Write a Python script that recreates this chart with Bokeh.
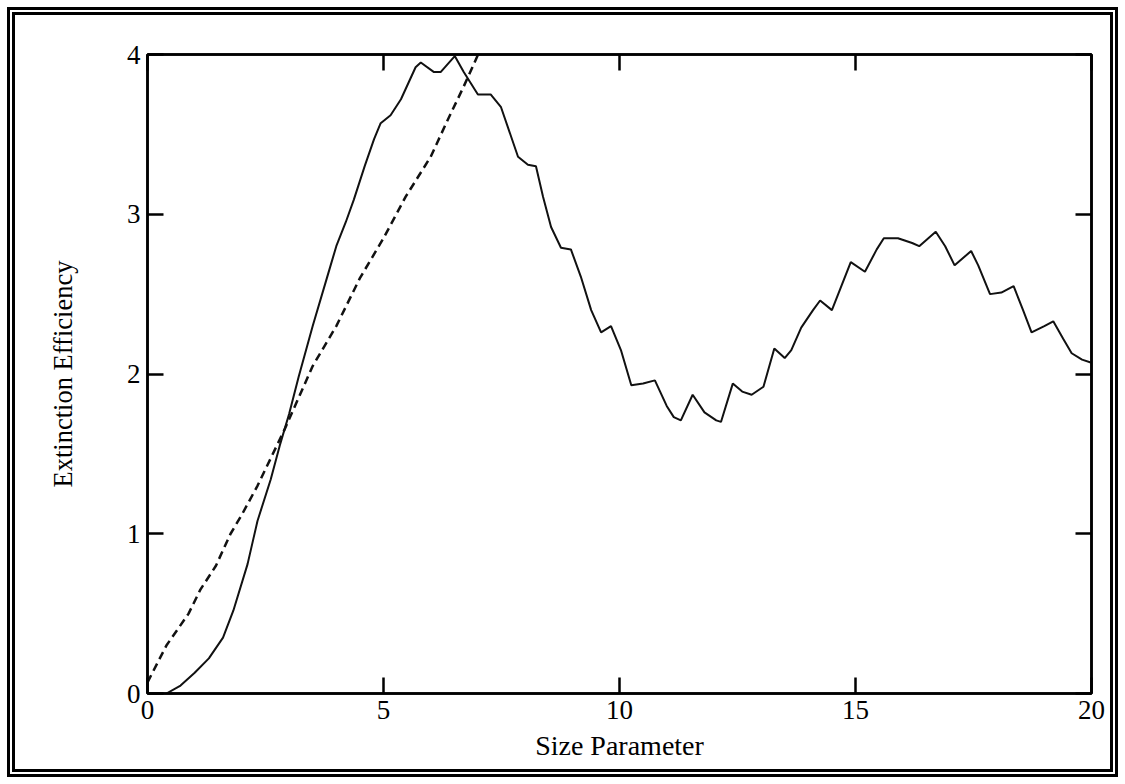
from bokeh.plotting import figure
from bokeh.models import FixedTicker, LinearAxis, CustomJSTickFormatter, InlineStyleSheet
from bokeh.embed import file_html
from bokeh.resources import INLINE

# Solid curve: exact extinction efficiency vs size parameter
size_solid = [0.4, 0.7, 1.0, 1.3, 1.6, 1.82, 2.12, 2.33, 2.61, 2.8, 3.0, 3.2, 3.5, 3.8,
              4.0, 4.2, 4.37, 4.6, 4.8, 4.94, 5.15, 5.37, 5.68, 5.79, 6.07, 6.21, 6.51,
              6.70, 7.0, 7.27, 7.49, 7.85, 8.06, 8.23, 8.38, 8.55, 8.76, 8.97, 9.18, 9.40,
              9.61, 9.82, 10.03, 10.25, 10.5, 10.75, 11.0, 11.15, 11.3, 11.55, 11.8, 12.05,
              12.15, 12.4, 12.6, 12.8, 13.05, 13.28, 13.5, 13.64, 13.85, 14.1, 14.25, 14.5,
              14.7, 14.9, 15.2, 15.45, 15.6, 15.9, 16.2, 16.35, 16.7, 16.9, 17.1, 17.45,
              17.6, 17.85, 18.09, 18.35, 18.55, 18.73, 19.0, 19.19, 19.4, 19.58, 19.8, 20.0]
q_solid = [0.0, 0.05, 0.13, 0.22, 0.35, 0.52, 0.81, 1.08, 1.34, 1.55, 1.75, 1.98, 2.3, 2.6,
           2.8, 2.95, 3.09, 3.3, 3.47, 3.57, 3.62, 3.72, 3.92, 3.95, 3.89, 3.89, 3.99,
           3.89, 3.75, 3.75, 3.67, 3.36, 3.31, 3.30, 3.11, 2.92, 2.79, 2.78, 2.61, 2.40,
           2.26, 2.30, 2.15, 1.93, 1.94, 1.96, 1.80, 1.73, 1.71, 1.87, 1.76, 1.71,
           1.70, 1.94, 1.89, 1.87, 1.92, 2.16, 2.10, 2.15, 2.29, 2.40, 2.46, 2.40,
           2.55, 2.70, 2.64, 2.78, 2.85, 2.85, 2.82, 2.80, 2.89, 2.80, 2.68, 2.77,
           2.68, 2.50, 2.51, 2.55, 2.40, 2.26, 2.30, 2.33, 2.22, 2.13, 2.09, 2.07]

# Dashed curve: approximation
size_dash = [0.0, 0.4, 0.87, 1.12, 1.45, 1.76, 2.0, 2.33, 2.9, 3.5, 4.0, 4.5, 5.0, 5.47,
             6.0, 6.36, 6.7, 7.02]
q_dash = [0.07, 0.3, 0.5, 0.65, 0.8, 1.0, 1.12, 1.30, 1.65, 2.05, 2.3, 2.6, 2.85, 3.11,
          3.36, 3.59, 3.8, 4.01]

x_ticks = [0, 5, 10, 15, 20]
y_ticks = [0, 1, 2, 3, 4]

FONT = "Liberation Serif"

p = figure(width=1125, height=784, x_range=(0, 20), y_range=(0, 4),
           output_backend="svg", toolbar_location=None,
           min_border_left=147, min_border_right=34, min_border_top=54,
           min_border_bottom=91)
p.grid.visible = False
p.outline_line_color = "black"
p.outline_line_width = 2.5
p.background_fill_color = "white"
p.border_fill_color = None

p.line(size_solid, q_solid, line_color="#111111", line_width=2)
p.line(size_dash, q_dash, line_color="#111111", line_width=2.5, line_dash="8 5")

def style_axis(ax, ticks, show_labels):
    ax.ticker = FixedTicker(ticks=ticks)
    ax.minor_tick_line_color = None
    ax.major_tick_in = 16
    ax.major_tick_out = 0
    ax.major_tick_line_width = 2.5
    ax.major_tick_line_color = "black"
    ax.axis_line_color = "black"
    ax.axis_line_width = 2.5
    ax.major_label_text_font = FONT
    ax.major_label_text_font_size = "27px"
    ax.major_label_text_color = "black"
    ax.major_label_standoff = 7
    ax.axis_label_text_font = FONT
    ax.axis_label_text_font_size = "26.5px"
    ax.axis_label_text_font_style = "normal"
    ax.axis_label_text_color = "black"
    if not show_labels:
        ax.formatter = CustomJSTickFormatter(code="return ''")
        ax.major_label_text_font_size = "1px"

xa = p.xaxis[0]
style_axis(xa, x_ticks, True)
xa.axis_label = "Size Parameter"
xa.axis_label_text_font_size = "28px"
xa.axis_label_standoff = 8

ya = p.yaxis[0]
style_axis(ya, y_ticks, True)
ya.axis_label = "Extinction Efficiency"
ya.axis_label_standoff = 46

top = LinearAxis()
style_axis(top, x_ticks, False)
p.add_layout(top, "above")
right = LinearAxis()
style_axis(right, y_ticks, False)
p.add_layout(right, "right")

# outer double border of the whole figure (drawn by the host element behind a transparent canvas)
p.stylesheets = [InlineStyleSheet(css=":host { background: white; outline: 8px double black; outline-offset: -15px; }")]

open("out.html", "w").write(file_html(p, INLINE))
